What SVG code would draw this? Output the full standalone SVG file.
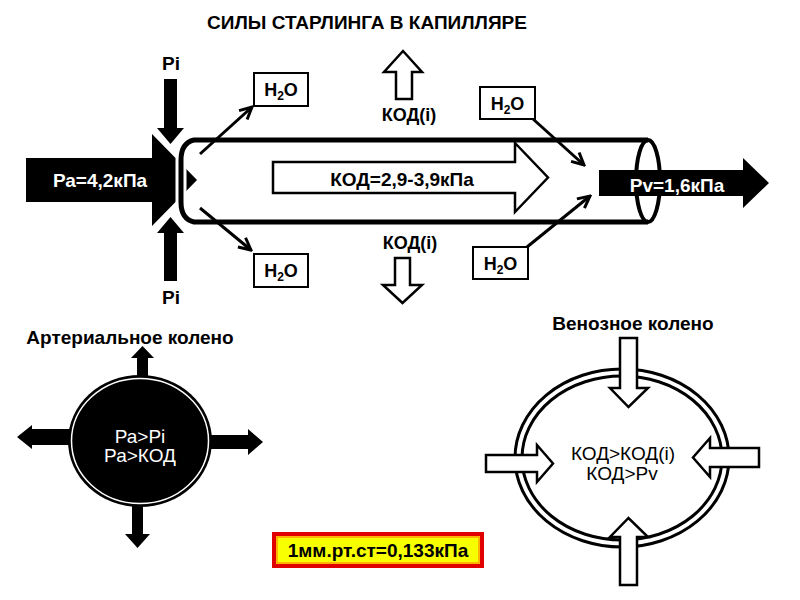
<svg xmlns="http://www.w3.org/2000/svg" width="800" height="600" viewBox="0 0 800 600">
<defs>
<style>
text{font-family:"Liberation Sans",Arial,sans-serif;}
.lbl{font-size:19px;font-weight:bold;fill:#000;text-anchor:middle;}
.wl{font-size:19px;font-weight:bold;fill:#fff;text-anchor:middle;}
.reg{font-size:19px;font-weight:normal;text-anchor:middle;}
.box{fill:#fff;stroke:#000;stroke-width:2;}
.thin{fill:none;stroke:#000;stroke-width:3;marker-end:url(#vh);}
.hollow{fill:#fff;stroke:#000;stroke-width:2.5;stroke-linejoin:miter;}
.blk{fill:#000;}
.sub{font-size:12px;}
</style>
<marker id="vh" viewBox="0 0 10 10" refX="9" refY="5" markerWidth="5" markerHeight="5" orient="auto" markerUnits="strokeWidth">
<path d="M1,1 L9,5 L1,9" fill="none" stroke="#000" stroke-width="2"/>
</marker>
</defs>
<rect width="800" height="600" fill="#fff"/>

<text id="title" x="367" y="29" class="lbl">СИЛЫ СТАРЛИНГА В КАПИЛЛЯРЕ</text>

<g id="ra">
<path class="blk" d="M26,158 L152,158 L152,134 L197,180 L152,226 L152,202 L26,202 Z"/>
<text x="100" y="187" class="wl">Ра=4,2кПа</text>
</g>

<g id="pi-top">
<text x="171" y="70" class="lbl">Pi</text>
<path d="M164,79 L177,79 L177,128 L184,128 L170.5,144 L157,128 L164,128 Z" fill="#000" stroke="#fff" stroke-width="3" paint-order="stroke"/>
</g>
<g id="pi-bottom">
<path d="M164,281 L177,281 L177,233 L184,233 L170.5,217 L157,233 L164,233 Z" fill="#000" stroke="#fff" stroke-width="3" paint-order="stroke"/>
<text x="171" y="304" class="lbl">Pi</text>
</g>

<g id="tube">
<path d="M194,140 Q181,143 181,160 L181,202 Q181,219 194,222" fill="none" stroke="#fff" stroke-width="11"/>
<path d="M648,140 L194,140 Q181,143 181,160 L181,202 Q181,219 194,222 L648,222" fill="none" stroke="#000" stroke-width="5"/>
<ellipse cx="648" cy="181" rx="12" ry="41" fill="none" stroke="#000" stroke-width="4"/>
</g>

<g id="kod-main">
<path class="hollow" d="M273,162 L515,162 L515,143 L548,177.5 L515,212 L515,193 L273,193 Z"/>
<text x="402" y="186" class="lbl">КОД=2,9-3,9кПа</text>
</g>

<g id="pv">
<path class="blk" d="M599,170 L743,170 L743,158 L769,183 L743,208 L743,196 L599,196 Z"/>
<text x="677" y="192" class="wl">Pv=1,6кПа</text>
</g>

<g id="kodi-up">
<path class="hollow" d="M396,99 L412,99 L412,72 L422,72 L403,51 L384,72 L396,72 Z"/>
<text x="409" y="121" class="lbl" style="font-size:18px">КОД(i)</text>
</g>
<g id="kodi-down">
<text x="410" y="249" class="lbl" style="font-size:18px">КОД(i)</text>
<path class="hollow" d="M395,258 L410,258 L410,285 L422,285 L402.5,303 L383,285 L395,285 Z"/>
</g>

<g id="h2o-tl"><rect class="box" x="254" y="73" width="54" height="33"/><text x="281" y="96" class="lbl" style="font-size:18px">H<tspan class="sub" dy="4">2</tspan><tspan dy="-4">O</tspan></text></g>
<g id="h2o-bl"><rect class="box" x="254" y="254" width="54" height="33"/><text x="281" y="277" class="lbl" style="font-size:18px">H<tspan class="sub" dy="4">2</tspan><tspan dy="-4">O</tspan></text></g>
<g id="h2o-tr"><rect class="box" x="480" y="87" width="55" height="32"/><text x="507.5" y="110" class="lbl" style="font-size:18px">H<tspan class="sub" dy="4">2</tspan><tspan dy="-4">O</tspan></text></g>
<g id="h2o-br"><rect class="box" x="473" y="247" width="55" height="32"/><text x="500.5" y="270" class="lbl" style="font-size:18px">H<tspan class="sub" dy="4">2</tspan><tspan dy="-4">O</tspan></text></g>

<g id="connectors">
<line class="thin" x1="200" y1="154" x2="252" y2="107"/>
<line class="thin" x1="200" y1="208" x2="251" y2="250"/>
<line class="thin" x1="533" y1="119" x2="584" y2="165"/>
<line class="thin" x1="527" y1="247" x2="590" y2="196"/>
</g>

<g id="arterial">
<text x="130" y="344" class="lbl">Артериальное колено</text>
<path class="blk" d="M137,380 L137,358 L131,358 L142.5,346 L154,358 L148,358 L148,380 Z"/>
<path class="blk" d="M132,500 L132,534 L125,534 L137.5,548 L150,534 L143,534 L143,500 Z"/>
<path class="blk" d="M72,429 L32,429 L32,425 L17,437 L32,449 L32,445 L72,445 Z"/>
<path class="blk" d="M208,435 L248,435 L248,429 L263,442 L248,455 L248,449 L208,449 Z"/>
<ellipse cx="140" cy="441" rx="72" ry="66" fill="#000"/>
<ellipse cx="140" cy="441" rx="68.5" ry="62.5" fill="none" stroke="#fff" stroke-width="1.5"/>
<text x="140" y="443" class="reg" fill="#fff">Ра&gt;Рі</text>
<text x="140" y="462" class="reg" fill="#fff">Ра&gt;КОД</text>
</g>

<g id="venous">
<text x="633" y="330" class="lbl">Венозное колено</text>
<ellipse cx="622" cy="458" rx="107" ry="89" fill="none" stroke="#000" stroke-width="3"/>
<ellipse cx="622" cy="458" rx="100" ry="82" fill="none" stroke="#000" stroke-width="3"/>
<path class="hollow" d="M620,338 L637,338 L637,388 L648,388 L628.5,407 L610,388 L620,388 Z"/>
<path class="hollow" d="M620,585 L637,585 L637,537 L648,537 L628.5,518 L610,537 L620,537 Z"/>
<path class="hollow" d="M486,455 L537,455 L537,445 L553,463.5 L537,482 L537,472 L486,472 Z"/>
<path class="hollow" d="M759,448 L710,448 L710,438 L693,457.5 L710,477 L710,467 L759,467 Z"/>
<text x="623" y="460" class="reg" fill="#000">КОД&gt;КОД(i)</text>
<text x="622" y="480" class="reg" fill="#000">КОД&gt;Pv</text>
</g>

<g id="unit">
<rect x="274" y="534" width="208" height="32" fill="#f8ff00" stroke="#e00000" stroke-width="4"/>
<rect x="277" y="537" width="202" height="26" fill="none" stroke="#ff9a00" stroke-width="1.5"/>
<text x="378" y="557" class="lbl">1мм.рт.ст=0,133кПа</text>
</g>
</svg>
